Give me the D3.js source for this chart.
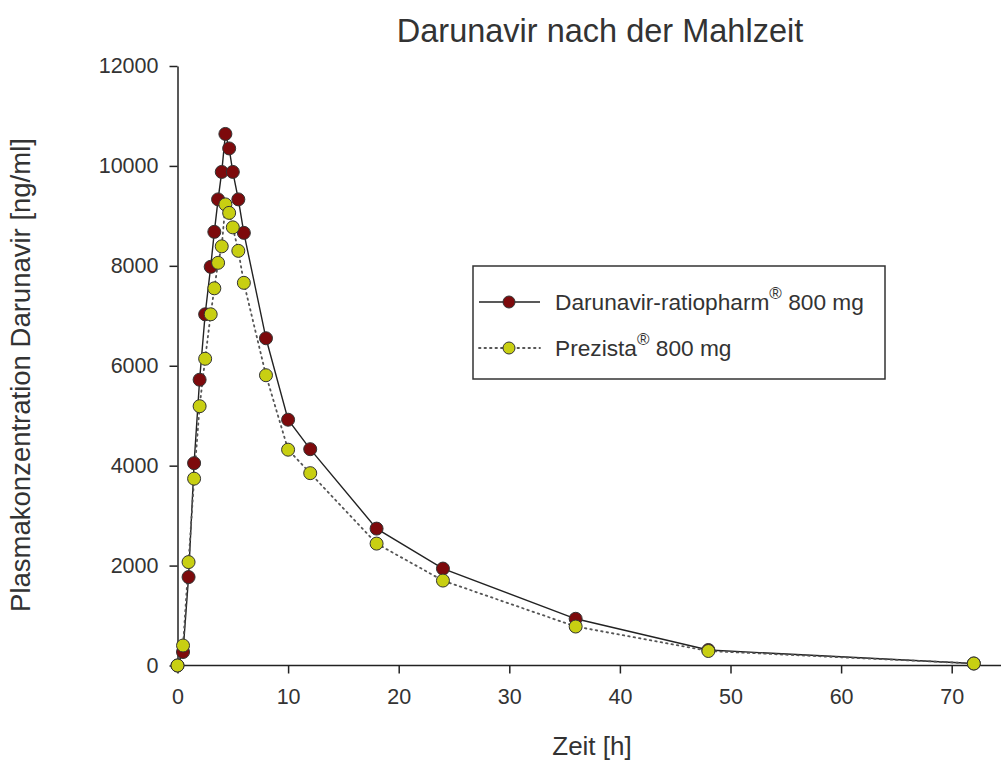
<!DOCTYPE html>
<html lang="de">
<head>
  <meta charset="UTF-8">
  <title>Darunavir nach der Mahlzeit</title>
  <script src="https://cdn.jsdelivr.net/npm/d3@7"></script>
  <style>
    body{ margin:0; background:#fff; }
    text{ font-family:"Liberation Sans", Arial, sans-serif; fill:#333; }
    .axis path, .axis line{ stroke:#222; stroke-width:1.5; }
    .axis text{ font-size:21.5px; fill:#333; }
  </style>
</head>
<body>
  <svg></svg>
  <script>

  var W = 1001, H = 764;

  // sampling times [h]
  var times = [0, 0.5, 1, 1.5, 2, 2.5, 3, 3.33, 3.67, 4, 4.33, 4.67, 5, 5.5, 6, 8, 10, 12, 18, 24, 36, 48, 72];
  // Darunavir-ratiopharm 800 mg [ng/ml]
  var ratiopharm = [0, 270, 1770, 4050, 5720, 7030, 7980, 8680, 9330, 9880, 10640, 10350, 9880, 9330, 8660, 6550, 4920, 4330, 2740, 1940, 935, 310, 40];
  // Prezista 800 mg [ng/ml]
  var prezista = [0, 400, 2070, 3740, 5190, 6140, 7030, 7550, 8060, 8390, 9230, 9060, 8770, 8300, 7660, 5810, 4320, 3850, 2440, 1700, 780, 290, 40];

  var xTicks = [0, 10, 20, 30, 40, 50, 60, 70];
  var yTicks = [0, 2000, 4000, 6000, 8000, 10000, 12000];

  var series = [
    {name: "Darunavir-ratiopharm", values: ratiopharm, fill: "#7d0a0c", dash: null, line: "#222"},
    {name: "Prezista", values: prezista, fill: "#c8cf12", dash: "1.5,4", line: "#555"}
  ];

  var SVG = d3.select("svg").attr("width", W).attr("height", H);

  var x = d3.scaleLinear().domain([0, 75]).range([177.5, 177.5 + 75 * 11.06]);
  var y = d3.scaleLinear().domain([0, 12000]).range([665.5, 66]);

  // axes
  SVG.append("g").attr("class", "axis")
    .attr("transform", "translate(0," + y(0) + ")")
    .call(d3.axisBottom(x).tickValues(xTicks).tickFormat(d3.format("d")).tickSize(8).tickSizeOuter(0).tickPadding(15))
    .call(g => g.select(".domain").attr("d", "M" + x(0) + ",0H" + W));

  SVG.append("g").attr("class", "axis")
    .attr("transform", "translate(" + x(0) + ",0)")
    .call(d3.axisLeft(y).tickValues(yTicks).tickFormat(d3.format("d")).tickSize(8).tickSizeOuter(0).tickPadding(11));

  var line = d3.line()
    .x((d, i) => x(times[i]))
    .y(d => y(d));

  series.forEach(function(s){
    SVG.append("path")
      .attr("d", line(s.values))
      .attr("fill", "none")
      .attr("stroke", s.line)
      .attr("stroke-width", s.dash ? 1.8 : 1.4)
      .attr("stroke-dasharray", s.dash)
      .attr("stroke-linecap", s.dash ? "round" : null);
  });

  series.forEach(function(s){
    SVG.append("g").selectAll("circle").data(s.values).enter().append("circle")
      .attr("cx", (d, i) => x(times[i]))
      .attr("cy", d => y(d))
      .attr("r", 6.5)
      .attr("fill", s.fill)
      .attr("stroke", "#333")
      .attr("stroke-width", 1);
  });

  // title and axis labels
  SVG.append("text").attr("x", 600).attr("y", 42)
    .attr("text-anchor", "middle").style("font-size", "32.5px")
    .text("Darunavir nach der Mahlzeit");

  SVG.append("text").attr("x", 592).attr("y", 755)
    .attr("text-anchor", "middle").style("font-size", "26px")
    .text("Zeit [h]");

  SVG.append("text")
    .attr("transform", "translate(30,375)rotate(-90)")
    .attr("text-anchor", "middle").style("font-size", "27.5px")
    .text("Plasmakonzentration Darunavir [ng/ml]");

  // legend
  var lg = SVG.append("g");
  lg.append("rect").attr("x", 473).attr("y", 266).attr("width", 412).attr("height", 113)
    .attr("fill", "#fff").attr("stroke", "#333").attr("stroke-width", 1.5);

  series.forEach(function(s, i){
    var ly = 302 + i * 46;
    lg.append("line").attr("x1", 479).attr("x2", 540).attr("y1", ly).attr("y2", ly)
      .attr("stroke", s.line).attr("stroke-width", s.dash ? 1.8 : 1.4)
      .attr("stroke-dasharray", s.dash).attr("stroke-linecap", s.dash ? "round" : null);
    lg.append("circle").attr("cx", 509).attr("cy", ly).attr("r", 6)
      .attr("fill", s.fill).attr("stroke", "#333");
    var t = lg.append("text").attr("x", 555).attr("y", ly + 8).style("font-size", "22.7px");
    t.append("tspan").text(s.name);
    t.append("tspan").attr("dy", -11).style("font-size", "17px").text("®");
    t.append("tspan").attr("dy", 11).text(" 800 mg");
  });

  </script>
</body>
</html>
